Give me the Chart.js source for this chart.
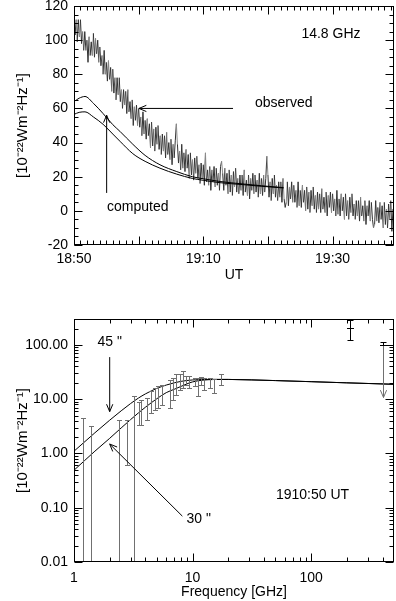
<!DOCTYPE html>
<html>
<head>
<meta charset="utf-8">
<script src="https://cdn.jsdelivr.net/npm/chart.js@4.4.1/dist/chart.umd.min.js"></script>
<style>
  html, body { margin: 0; padding: 0; background: #fff; }
  #wrap { position: relative; width: 396px; height: 601px; overflow: hidden; }
  canvas { position: absolute; left: 0; }
  #topChart { top: 0; }
  #bottomChart { top: 300px; }
</style>
</head>
<body>
<div id="wrap">
  <canvas id="topChart" width="396" height="300" style="width:396px;height:300px"></canvas>
  <canvas id="bottomChart" width="396" height="301" style="width:396px;height:301px"></canvas>
</div>
<script>
  // ── DATA: 14.8 GHz light curve, one sample every 10 s from 18:50 UT ──
  const obsStep = 1 / 6; // minutes
  const observed = [
    117, 103, 112, 99, 112, 102, 112, 98, 105, 94, 105, 94,
    100, 87, 102, 91, 99, 91, 104, 90, 101, 92, 100, 87,
    96, 85, 91, 80, 94, 80, 87, 76, 88, 77, 84, 70,
    83, 69, 78, 65, 78, 68, 78, 64, 71, 60, 71, 62,
    70, 57, 71, 58, 64, 54, 65, 50, 61, 53, 62, 50,
    60, 49, 55, 44, 58, 45, 53, 42, 54, 44, 51, 37,
    52, 38, 48, 35, 49, 39, 50, 36, 44, 33, 45, 35,
    44, 31, 46, 33, 40, 30, 42, 27, 39, 31, 41, 51,
    39, 28, 35, 24, 39, 25, 34, 23, 36, 25, 33, 19,
    34, 21, 30, 18, 31, 22, 32, 19, 27, 16, 28, 19,
    27, 15, 34, 17, 24, 15, 26, 12, 24, 17, 26, 14,
    25, 15, 22, 12, 26, 29, 22, 12, 25, 15, 22, 10,
    24, 11, 21, 9, 23, 14, 25, 11, 19, 10, 21, 12,
    21, 9, 24, 11, 18, 9, 21, 7, 19, 12, 22, 10,
    21, 11, 18, 8, 22, 10, 19, 9, 21, 11, 19, 32,
    21, 8, 17, 6, 19, 10, 21, 8, 15, 6, 17, 8,
    17, 5, 19, 7, 2, 5, 17, 3, 14, 7, 17, 5,
    15, 5, 12, 2, 17, 3, 12, 2, 15, 5, 12, 0,
    14, 1, 11, -1, 12, 3, 14, 1, 9, -1, 11, 1,
    10, -1, 13, 1, 8, -1, 11, -3, 9, 2, 11, -1,
    10, 0, 7, -3, 12, -2, 7, -3, 10, 0, 8, -5,
    10, -3, 6, -5, 8, -1, 10, -3, 4, -5, 6, -3,
    6, -6, 8, -3, 3, -6, 6, -8, 3, -3, 6, -6,
    5, -5, -10, -8, 6, -6, 2, -7, 5, -5, 3, -10,
    5, -8, 1, -10, 4, -5, 6, -12, 1, -9
  ];
  const compTime  = [0, 0.8, 1.7, 3, 4.5, 6, 7.1, 9.1, 11, 13.3, 15.9, 18.3, 20, 22.6, 26, 29, 32.4];
  const computedA = [64, 66, 67, 63, 57, 50.5, 46.6, 39, 32.5, 27, 23, 20, 18.8, 17.2, 15.8, 14.7, 13.6];
  const computedB = [56.5, 57.7, 58, 55, 50.7, 45, 40.8, 33.5, 29, 25, 21.5, 19, 17.9, 16.5, 15.4, 14.4, 13.4];
  const utTicks  = [0, 20, 40];
  const utLabels = ['18:50', '19:10', '19:30'];
  const fluxTicks = [-20, 0, 20, 40, 60, 80, 100, 120];

  // ── DATA: spectrum at 1910:50 UT ──
  const modelFreq = [1, 1.5, 2, 2.5, 3, 3.5, 4, 5, 6, 7, 8, 10, 15, 20, 50, 100, 200, 500];
  const model45 = [1.1, 2.4, 4.1, 6.1, 8.3, 10.5, 12.5, 15.8, 18.2, 20, 21.3, 22.6, 23.2, 23.1, 22, 21, 20, 18.8];
  const model30 = [0.49, 1.1, 1.9, 2.95, 4.2, 5.6, 7.1, 10.2, 13.2, 15.2, 17.2, 20.8, 23.0, 23.1, 22, 21, 20, 18.8];
  const errFreq = [1.2, 1.4, 2.4, 2.8, 3.2, 3.5, 3.7, 4.1, 4.5, 4.8, 5.1, 5.5, 6.4, 6.8, 7.3, 7.8, 8.3, 8.8, 9.4, 10.4, 11.1, 11.8, 12.6, 13.9, 15.3, 17.4];
  const errLow  = [0.001, 0.001, 0.001, 0.6, 0.001, 3.3, 3.4, 4.2, 5.5, 6.4, 6.9, 7.9, 6.9, 9.8, 12, 15, 16, 18.5, 16, 17.3, 11.3, 18.5, 15, 16, 13, 18];
  const errHigh = [4.5, 3.2, 4.1, 4.2, 11.3, 9.0, 9.8, 10.5, 14, 16, 17.3, 18.5, 23, 24.7, 28.5, 28.5, 33, 26.5, 26.5, 24.7, 24.7, 25.7, 24.7, 24.7, 24, 29];
  const ptFreq = [212, 405];
  const ptFlux = [203, 98];
  const ptHigh = [286, 114];
  const ptLow  = [123, 11];
  const ptUpperLimit = [false, true];
  const freqTicks = [1, 10, 100];
  const specTicks = [0.01, 0.1, 1, 10, 100];

  const FONT = { family: '"Liberation Sans", Arial, Helvetica, sans-serif', size: 14 };
  const TITLE_FONT = { family: '"Liberation Sans", Arial, Helvetica, sans-serif', size: 15 };
  const yTitle = '[10\u207B\u00B2\u00B2Wm\u207B\u00B2Hz\u207B\u00B9]';

  function range(a, b, step) {
    const out = [];
    for (let v = a; v <= b + 1e-9; v += step) out.push(+v.toFixed(6));
    return out;
  }
  function logMinor(lo, hi) {
    const out = [];
    for (let d = Math.floor(Math.log10(lo)); d <= Math.ceil(Math.log10(hi)); d++) {
      for (let m = 2; m <= 9; m++) {
        const v = m * Math.pow(10, d);
        if (v > lo && v < hi) out.push(v);
      }
    }
    return out;
  }

  function arrow(ctx, x1, y1, x2, y2) {
    const ang = Math.atan2(y2 - y1, x2 - x1), len = 8, spread = 0.4;
    ctx.beginPath();
    ctx.moveTo(x1, y1); ctx.lineTo(x2, y2);
    ctx.moveTo(x2 - len * Math.cos(ang - spread), y2 - len * Math.sin(ang - spread));
    ctx.lineTo(x2, y2);
    ctx.lineTo(x2 - len * Math.cos(ang + spread), y2 - len * Math.sin(ang + spread));
    ctx.stroke();
  }

  // ── frame + inward ticks on all four sides ──
  const frameTicks = {
    id: 'frameTicks',
    afterDraw(chart, args, o) {
      const { ctx, chartArea: a, scales: { x, y } } = chart;
      const L = Math.round(a.left) + 0.5, R = Math.round(a.right) - 0.5;
      const T = Math.round(a.top) + 0.5, B = Math.round(a.bottom) - 0.5;
      ctx.save();
      ctx.strokeStyle = '#000';
      ctx.lineWidth = 1;
      ctx.strokeRect(L, T, R - L, B - T);
      ctx.beginPath();
      const xt = (vals, len) => vals.forEach(v => {
        const p = Math.round(x.getPixelForValue(v)) + 0.5;
        ctx.moveTo(p, B); ctx.lineTo(p, B - len);
        ctx.moveTo(p, T); ctx.lineTo(p, T + len);
      });
      const yt = (vals, len) => vals.forEach(v => {
        const p = Math.round(y.getPixelForValue(v)) + 0.5;
        ctx.moveTo(L, p); ctx.lineTo(L + len, p);
        ctx.moveTo(R, p); ctx.lineTo(R - len, p);
      });
      xt(o.xMajor, 8); xt(o.xMinor, 4);
      yt(o.yMajor, 8); yt(o.yMinor, 4);
      ctx.stroke();
      ctx.restore();
    }
  };

  // ── text labels and arrows placed in data coordinates ──
  const notes = {
    id: 'notes',
    afterDraw(chart, args, o) {
      const { ctx, scales: { x, y } } = chart;
      ctx.save();
      ctx.fillStyle = '#000';
      ctx.strokeStyle = '#000';
      ctx.lineWidth = 1;
      ctx.font = FONT.size + 'px ' + FONT.family;
      ctx.textBaseline = 'middle';
      (o.texts || []).forEach(t => {
        ctx.textAlign = t.align;
        ctx.fillText(t.text, x.getPixelForValue(t.x), y.getPixelForValue(t.y));
      });
      (o.arrows || []).forEach(a => {
        arrow(ctx, x.getPixelForValue(a.from[0]), y.getPixelForValue(a.from[1]),
                   x.getPixelForValue(a.to[0]), y.getPixelForValue(a.to[1]));
      });
      ctx.restore();
    }
  };

  // ── error bars for the spectrum ──
  const errorBars = {
    id: 'errorBars',
    afterDatasetsDraw(chart) {
      const { ctx, chartArea: a, scales: { x, y } } = chart;
      ctx.save();
      ctx.beginPath();
      ctx.rect(a.left, a.top, a.right - a.left, a.bottom - a.top);
      ctx.clip();
      ctx.lineWidth = 1;
      ctx.strokeStyle = '#707070';
      errFreq.forEach((f, i) => {
        const px = Math.round(x.getPixelForValue(f)) + 0.5;
        const y1 = Math.round(y.getPixelForValue(errLow[i])) + 0.5;
        const y2 = Math.round(y.getPixelForValue(errHigh[i])) + 0.5;
        ctx.beginPath();
        ctx.moveTo(px, y1); ctx.lineTo(px, y2);
        ctx.moveTo(px - 2.5, y1); ctx.lineTo(px + 2.5, y1);
        ctx.moveTo(px - 2.5, y2); ctx.lineTo(px + 2.5, y2);
        ctx.stroke();
      });
      ptFreq.forEach((f, i) => {
        const px = Math.round(x.getPixelForValue(f)) + 0.5;
        const yc = Math.round(y.getPixelForValue(ptFlux[i])) + 0.5;
        const yh = Math.round(y.getPixelForValue(ptHigh[i])) + 0.5;
        const yl = Math.round(y.getPixelForValue(ptLow[i])) + 0.5;
        if (ptUpperLimit[i]) {
          ctx.strokeStyle = '#707070';
          arrow(ctx, px, yc, px, yl);
        }
        ctx.strokeStyle = '#000';
        ctx.beginPath();
        ctx.moveTo(px, yh); ctx.lineTo(px, ptUpperLimit[i] ? yc : yl);
        ctx.moveTo(px - 3.5, yc); ctx.lineTo(px + 3.5, yc);
        ctx.moveTo(px - 3, yh); ctx.lineTo(px + 3, yh);
        if (!ptUpperLimit[i]) { ctx.moveTo(px - 3, yl); ctx.lineTo(px + 3, yl); }
        ctx.stroke();
      });
      ctx.restore();
    }
  };

  const baseTicks = { font: FONT, color: '#000', maxRotation: 0, autoSkip: false };

  // ── TOP CHART ──
  new Chart(document.getElementById('topChart').getContext('2d'), {
    type: 'line',
    data: {
      datasets: [
        {
          data: compTime.map((t, i) => ({ x: t, y: computedA[i] })),
          borderColor: '#000', borderWidth: 1, pointRadius: 0, cubicInterpolationMode: 'monotone'
        },
        {
          data: compTime.map((t, i) => ({ x: t, y: computedB[i] })),
          borderColor: '#000', borderWidth: 1, pointRadius: 0, cubicInterpolationMode: 'monotone'
        },
        {
          data: observed.map((v, i) => ({ x: i * obsStep, y: v })),
          borderColor: '#333', borderWidth: 1, pointRadius: 0, tension: 0,
          segment: { borderColor: c => (c.p0DataIndex % 3 === 2 ? '#8c8c8c' : '#333') }
        }
      ]
    },
    options: {
      responsive: false,
      animation: false,
      layout: { padding: { top: 6, right: 2, left: 0, bottom: 0 } },
      plugins: {
        legend: { display: false },
        tooltip: { enabled: false },
        frameTicks: {
          xMajor: range(0, 40, 10), xMinor: range(0, 49, 1),
          yMajor: fluxTicks, yMinor: range(-20, 120, 5)
        },
        notes: {
          texts: [
            { text: '14.8 GHz', x: 39.75, y: 103.7, align: 'center' },
            { text: 'observed', x: 28.0, y: 63, align: 'left' },
            { text: 'computed', x: 5.1, y: 2, align: 'left' }
          ],
          arrows: [
            { from: [24.6, 60], to: [10.05, 60] },
            { from: [5.05, 10.5], to: [5.05, 56] }
          ]
        }
      },
      scales: {
        x: {
          type: 'linear', min: 0, max: 49.5,
          grid: { display: false, drawTicks: false }, border: { display: false },
          afterBuildTicks: s => { s.ticks = utTicks.map(v => ({ value: v })); },
          ticks: { ...baseTicks, padding: 6, callback: v => utLabels[utTicks.indexOf(v)] },
          title: { display: true, text: 'UT', font: FONT, color: '#000', padding: { top: 0, bottom: 16 } },
          afterFit: s => { s.height = 55; s.paddingLeft = 0; s.paddingRight = 0; }
        },
        y: {
          type: 'linear', min: -20, max: 120,
          grid: { display: false, drawTicks: false }, border: { display: false },
          afterBuildTicks: s => { s.ticks = fluxTicks.map(v => ({ value: v })); },
          ticks: { ...baseTicks, padding: 6, callback: v => String(v) },
          title: { display: true, text: yTitle, font: TITLE_FONT, color: '#000', padding: { top: 14, bottom: 0 } },
          afterFit: s => { s.width = 74; s.paddingTop = 0; s.paddingBottom = 0; }
        }
      }
    },
    plugins: [frameTicks, notes]
  });

  // ── BOTTOM CHART ──
  new Chart(document.getElementById('bottomChart').getContext('2d'), {
    type: 'line',
    data: {
      datasets: [
        {
          data: modelFreq.map((f, i) => ({ x: f, y: model45[i] })),
          borderColor: '#000', borderWidth: 1, pointRadius: 0, cubicInterpolationMode: 'monotone'
        },
        {
          data: modelFreq.map((f, i) => ({ x: f, y: model30[i] })),
          borderColor: '#000', borderWidth: 1, pointRadius: 0, cubicInterpolationMode: 'monotone'
        }
      ]
    },
    options: {
      responsive: false,
      animation: false,
      layout: { padding: { top: 19, right: 2, left: 0, bottom: 0 } },
      plugins: {
        legend: { display: false },
        tooltip: { enabled: false },
        frameTicks: {
          xMajor: freqTicks, xMinor: logMinor(1, 500),
          yMajor: specTicks, yMinor: logMinor(0.01, 300)
        },
        notes: {
          texts: [
            { text: '45 "', x: 2.0, y: 113, align: 'center' },
            { text: '30 "', x: 8.9, y: 0.062, align: 'left' },
            { text: '1910:50 UT', x: 50.5, y: 0.17, align: 'left' }
          ],
          arrows: [
            { from: [2.0, 59.6], to: [2.0, 5.9] },
            { from: [8.2, 0.07], to: [2.0, 1.49] }
          ]
        }
      },
      scales: {
        x: {
          type: 'logarithmic', min: 1, max: 500,
          grid: { display: false, drawTicks: false }, border: { display: false },
          afterBuildTicks: s => { s.ticks = freqTicks.map(v => ({ value: v })); },
          ticks: { ...baseTicks, padding: 8, callback: v => String(v) },
          title: { display: true, text: 'Frequency [GHz]', font: FONT, color: '#000', padding: { top: 0, bottom: 0 } },
          afterFit: s => { s.height = 39; s.paddingLeft = 0; s.paddingRight = 0; }
        },
        y: {
          type: 'logarithmic', min: 0.01, max: 300,
          grid: { display: false, drawTicks: false }, border: { display: false },
          afterBuildTicks: s => { s.ticks = specTicks.map(v => ({ value: v })); },
          ticks: { ...baseTicks, padding: 6, callback: v => Number(v).toFixed(2) },
          title: { display: true, text: yTitle, font: TITLE_FONT, color: '#000', padding: { top: 14, bottom: 0 } },
          afterFit: s => { s.width = 74; s.paddingTop = 0; s.paddingBottom = 0; }
        }
      }
    },
    plugins: [errorBars, frameTicks, notes]
  });
</script>
</body>
</html>
